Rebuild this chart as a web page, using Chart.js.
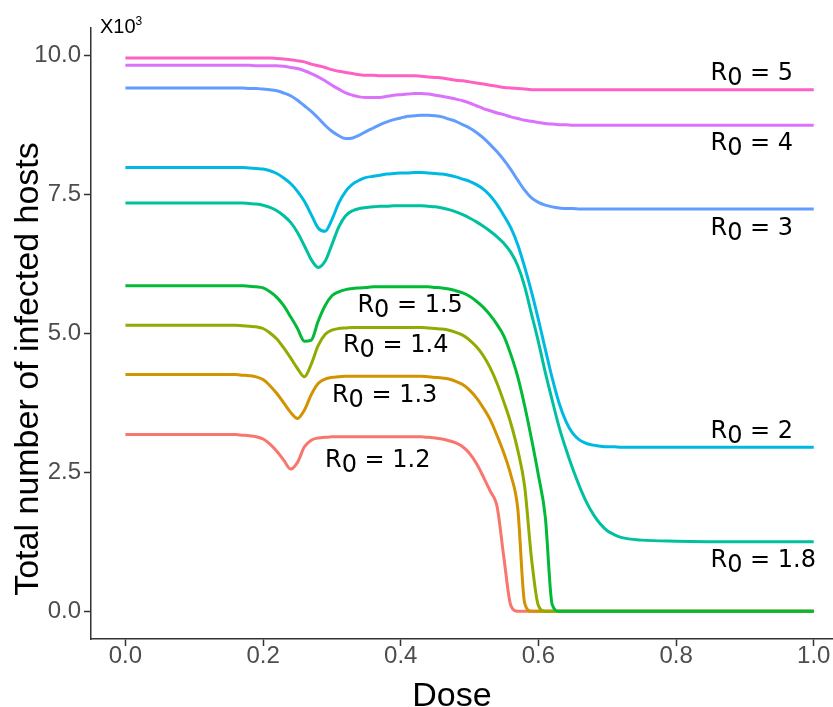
<!DOCTYPE html>
<html>
<head>
<meta charset="utf-8">
<script src="https://cdn.jsdelivr.net/npm/chart.js@4"></script>
<style>
  html, body { margin: 0; padding: 0; background: #fff; overflow: hidden; }
  #wrap { width: 833px; height: 707px; }
</style>
</head>
<body>
<div id="wrap"><canvas id="doseChart" width="833" height="707"></canvas></div>
<script>
// dose grid shared by every curve (0.01 steps where the curves move)
const doses = [
  0, 0.05, 0.10,
  0.15, 0.16, 0.17, 0.18, 0.19,
  0.20, 0.21, 0.22, 0.23, 0.24, 0.25, 0.26, 0.27, 0.28, 0.29,
  0.30, 0.31, 0.32, 0.33, 0.34, 0.35, 0.36, 0.37, 0.38, 0.39,
  0.40, 0.41, 0.42, 0.43, 0.44, 0.45, 0.46, 0.47, 0.48, 0.49,
  0.50, 0.51, 0.52, 0.53, 0.54, 0.55, 0.56, 0.57, 0.58, 0.59,
  0.60, 0.61, 0.62, 0.63, 0.64, 0.65, 0.66, 0.67, 0.68, 0.69,
  0.70, 0.71, 0.72,
  0.75, 0.80, 0.90, 1.00
];

// total infected hosts (x10^3), one array per R0
const hosts12 = [
  3.18, 3.18, 3.18,
  3.18, 3.18, 3.17, 3.16, 3.14,
  3.10, 3.01, 2.88, 2.72, 2.56, 2.68, 2.96, 3.08, 3.12, 3.13,
  3.14, 3.14, 3.14, 3.14, 3.14, 3.14, 3.14, 3.14, 3.14, 3.14,
  3.14, 3.14, 3.14, 3.14, 3.13, 3.12, 3.10, 3.07, 3.03, 2.96,
  2.84, 2.66, 2.42, 2.16, 1.88, 0.95, 0.10, 0, 0, 0,
  0, 0, 0, 0, 0, 0, 0, 0, 0, 0,
  0, 0, 0,
  0, 0, 0, 0
];
const hosts13 = [
  4.26, 4.26, 4.26,
  4.26, 4.26, 4.25, 4.24, 4.22,
  4.17, 4.06, 3.92, 3.75, 3.58, 3.47, 3.62, 3.90, 4.10, 4.18,
  4.21, 4.22, 4.23, 4.23, 4.23, 4.23, 4.23, 4.23, 4.23, 4.23,
  4.23, 4.23, 4.23, 4.23, 4.22, 4.21, 4.20, 4.18, 4.14, 4.08,
  3.98, 3.84, 3.66, 3.45, 3.16, 2.84, 2.45, 1.85, 0.15, 0,
  0, 0, 0, 0, 0, 0, 0, 0, 0, 0,
  0, 0, 0,
  0, 0, 0, 0
];
const hosts14 = [
  5.15, 5.15, 5.15,
  5.15, 5.15, 5.14, 5.13, 5.12,
  5.09, 5.01, 4.90, 4.74, 4.56, 4.37, 4.22, 4.45, 4.78, 4.98,
  5.06, 5.09, 5.10, 5.11, 5.11, 5.11, 5.11, 5.11, 5.11, 5.11,
  5.11, 5.11, 5.11, 5.11, 5.10, 5.09, 5.08, 5.06, 5.02, 4.97,
  4.88, 4.76, 4.60, 4.38, 4.10, 3.76, 3.38, 2.90, 2.25, 0.95,
  0.10, 0, 0, 0, 0, 0, 0, 0, 0, 0,
  0, 0, 0,
  0, 0, 0, 0
];
const hosts15 = [
  5.86, 5.86, 5.86,
  5.86, 5.86, 5.86, 5.85, 5.84,
  5.82, 5.75, 5.65, 5.50, 5.30, 5.09, 4.86, 4.88, 5.22, 5.50,
  5.68, 5.75, 5.79, 5.81, 5.82, 5.83, 5.84, 5.84, 5.84, 5.84,
  5.84, 5.84, 5.84, 5.84, 5.84, 5.83, 5.82, 5.80, 5.77, 5.73,
  5.67, 5.58, 5.47, 5.33, 5.16, 4.95, 4.62, 4.22, 3.70, 3.10,
  2.45, 1.70, 0.12, 0, 0, 0, 0, 0, 0, 0,
  0, 0, 0,
  0, 0, 0, 0
];
const hosts18 = [
  7.35, 7.35, 7.35,
  7.35, 7.35, 7.35, 7.34, 7.33,
  7.31, 7.27, 7.21, 7.12, 7.00, 6.82, 6.58, 6.33, 6.19, 6.30,
  6.60, 6.92, 7.12, 7.21, 7.25, 7.27, 7.28, 7.29, 7.29, 7.30,
  7.30, 7.30, 7.30, 7.30, 7.29, 7.28, 7.26, 7.23, 7.19, 7.14,
  7.08, 7.01, 6.93, 6.84, 6.74, 6.62, 6.46, 6.22, 5.85, 5.35,
  4.85, 4.30, 3.80, 3.32, 2.92, 2.56, 2.24, 1.96, 1.74, 1.57,
  1.45, 1.38, 1.33,
  1.28, 1.26, 1.25, 1.25
];
const hosts2 = [
  7.99, 7.99, 7.99,
  7.99, 7.99, 7.99, 7.98, 7.97,
  7.96, 7.93, 7.88, 7.80, 7.70, 7.56, 7.38, 7.14, 6.90, 6.84,
  7.05, 7.35, 7.56, 7.69, 7.76, 7.81, 7.83, 7.85, 7.87, 7.88,
  7.89, 7.89, 7.90, 7.90, 7.89, 7.88, 7.87, 7.85, 7.82, 7.78,
  7.74, 7.68, 7.60, 7.48, 7.32, 7.12, 6.90, 6.60, 6.20, 5.75,
  5.25, 4.72, 4.20, 3.75, 3.42, 3.20, 3.08, 3.02, 2.99, 2.97,
  2.96, 2.96, 2.95,
  2.95, 2.95, 2.95, 2.95
];
const hosts3 = [
  9.42, 9.42, 9.42,
  9.42, 9.42, 9.42, 9.41, 9.41,
  9.40, 9.39, 9.37, 9.33, 9.28, 9.20, 9.10, 9.00, 8.88, 8.75,
  8.64, 8.56, 8.51, 8.52, 8.57, 8.64, 8.70, 8.76, 8.81, 8.85,
  8.88, 8.91, 8.92, 8.93, 8.93, 8.92, 8.90, 8.86, 8.82, 8.76,
  8.70, 8.62, 8.52, 8.40, 8.27, 8.12, 7.95, 7.76, 7.58, 7.44,
  7.36, 7.31, 7.28, 7.26, 7.25, 7.25, 7.24, 7.24, 7.24, 7.24,
  7.24, 7.24, 7.24,
  7.24, 7.24, 7.24, 7.24
];
const hosts4 = [
  9.83, 9.83, 9.83,
  9.83, 9.83, 9.83, 9.83, 9.82,
  9.82, 9.82, 9.82, 9.81, 9.79, 9.77, 9.73, 9.68, 9.62, 9.55,
  9.47, 9.40, 9.33, 9.29, 9.26, 9.25, 9.25, 9.25, 9.27, 9.29,
  9.30, 9.31, 9.32, 9.32, 9.31, 9.29, 9.27, 9.25, 9.22, 9.19,
  9.15, 9.10, 9.05, 9.01, 8.97, 8.94, 8.90, 8.87, 8.84, 8.82,
  8.80, 8.78, 8.77, 8.76, 8.76, 8.75, 8.75, 8.75, 8.75, 8.75,
  8.75, 8.75, 8.75,
  8.75, 8.75, 8.75, 8.75
];
const hosts5 = [
  9.96, 9.96, 9.96,
  9.96, 9.96, 9.96, 9.96, 9.96,
  9.96, 9.96, 9.95, 9.94, 9.93, 9.91, 9.89, 9.85, 9.82, 9.79,
  9.75, 9.72, 9.70, 9.68, 9.66, 9.65, 9.65, 9.64, 9.64, 9.64,
  9.64, 9.64, 9.64, 9.63, 9.62, 9.61, 9.60, 9.58, 9.56, 9.55,
  9.53, 9.51, 9.49, 9.47, 9.45, 9.43, 9.42, 9.41, 9.40, 9.39,
  9.39, 9.39, 9.39, 9.39, 9.39, 9.39, 9.39, 9.39, 9.39, 9.39,
  9.39, 9.39, 9.39,
  9.39, 9.39, 9.39, 9.39
];

const r0Values = ['1.2', '1.3', '1.4', '1.5', '1.8', '2', '3', '4', '5'];
const seriesList = [hosts12, hosts13, hosts14, hosts15, hosts18, hosts2, hosts3, hosts4, hosts5];
const lineColors = ['#F8766D', '#D39200', '#93AA00', '#00BA38', '#00C19F', '#00B9E3', '#619CFF', '#DB72FB', '#FF61C3'];

const xTicks = [0, 0.2, 0.4, 0.6, 0.8, 1.0];
const yTicks = [0, 2.5, 5, 7.5, 10];

// where each "R0 = .." tag sits (dose, hosts at text baseline)
const curveLabels = [
  { r0: '5',   dose: 0.85,  hosts: 9.57 },
  { r0: '4',   dose: 0.85,  hosts: 8.30 },
  { r0: '3',   dose: 0.85,  hosts: 6.77 },
  { r0: '2',   dose: 0.85,  hosts: 3.11 },
  { r0: '1.8', dose: 0.85,  hosts: 0.80 },
  { r0: '1.5', dose: 0.337, hosts: 5.38 },
  { r0: '1.4', dose: 0.316, hosts: 4.66 },
  { r0: '1.3', dose: 0.30,  hosts: 3.77 },
  { r0: '1.2', dose: 0.29,  hosts: 2.60 }
];

const datasets = seriesList.map((vals, i) => ({
  label: 'R0 = ' + r0Values[i],
  data: doses.map((d, k) => ({ x: d, y: vals[k] })),
  borderColor: lineColors[i],
  backgroundColor: lineColors[i],
  borderWidth: 3,
  pointRadius: 0,
  fill: false,
  cubicInterpolationMode: 'monotone',
  order: -i
}));

const textPlugin = {
  id: 'textPlugin',
  afterDatasetsDraw(chart) {
    const { ctx, scales: { x, y } } = chart;
    ctx.save();
    ctx.fillStyle = '#000';
    ctx.font = '24px "DejaVu Sans"';
    ctx.textAlign = 'left';
    ctx.textBaseline = 'alphabetic';
    curveLabels.forEach(l => {
      let px = x.getPixelForValue(l.dose);
      const py = y.getPixelForValue(l.hosts);
      ctx.fillText('R', px, py);
      px += ctx.measureText('R').width;
      ctx.fillText('0', px, py + 5);
      px += ctx.measureText('0').width;
      ctx.fillText(' = ' + l.r0, px, py);
    });
    ctx.restore();
  },
  afterDraw(chart) {
    const { ctx } = chart;
    ctx.save();
    ctx.fillStyle = '#000';
    // axis titles
    ctx.font = '34px "Liberation Sans", Arial, sans-serif';
    ctx.textAlign = 'center';
    ctx.textBaseline = 'alphabetic';
    ctx.fillText('Dose', 452, 706);
    ctx.save();
    ctx.translate(38, 369);
    ctx.rotate(-Math.PI / 2);
    ctx.fillText('Total number of infected hosts', 0, 0);
    ctx.restore();
    // multiplier note above the y axis
    ctx.textAlign = 'left';
    ctx.font = '20px "Liberation Sans", Arial, sans-serif';
    ctx.fillText('X10', 100, 33);
    const w = ctx.measureText('X10').width;
    ctx.font = '12px "Liberation Sans", Arial, sans-serif';
    ctx.fillText('3', 100 + w, 25);
    ctx.restore();
  }
};

new Chart(document.getElementById('doseChart'), {
  type: 'line',
  data: { datasets },
  options: {
    responsive: false,
    animation: false,
    devicePixelRatio: 1,
    layout: { padding: { top: 28, right: 0, left: 0, bottom: 0 } },
    plugins: {
      legend: { display: false },
      tooltip: { enabled: false }
    },
    scales: {
      x: {
        type: 'linear',
        min: -0.05,
        max: 1.028,
        afterBuildTicks: s => { s.ticks = xTicks.map(v => ({ value: v })); },
        afterFit: s => { s.height = 68; },
        border: { display: true, color: '#333', width: 1.5 },
        grid: { drawOnChartArea: false, drawTicks: true, tickLength: 7, tickColor: '#333', tickWidth: 1.5 },
        ticks: {
          color: '#4D4D4D',
          padding: -2,
          maxRotation: 0,
          font: { family: '"Liberation Sans", Arial, sans-serif', size: 24, lineHeight: 1 },
          callback: v => v.toFixed(1)
        }
      },
      y: {
        min: -0.5,
        max: 10.5,
        afterBuildTicks: s => { s.ticks = yTicks.map(v => ({ value: v })); },
        afterFit: s => { s.width = 91; },
        border: { display: true, color: '#333', width: 1.5 },
        grid: { drawOnChartArea: false, drawTicks: true, tickLength: 7, tickColor: '#333', tickWidth: 1.5 },
        ticks: {
          color: '#4D4D4D',
          padding: 3,
          font: { family: '"Liberation Sans", Arial, sans-serif', size: 24 },
          callback: v => v.toFixed(1)
        }
      }
    }
  },
  plugins: [textPlugin]
});
</script>
</body>
</html>
